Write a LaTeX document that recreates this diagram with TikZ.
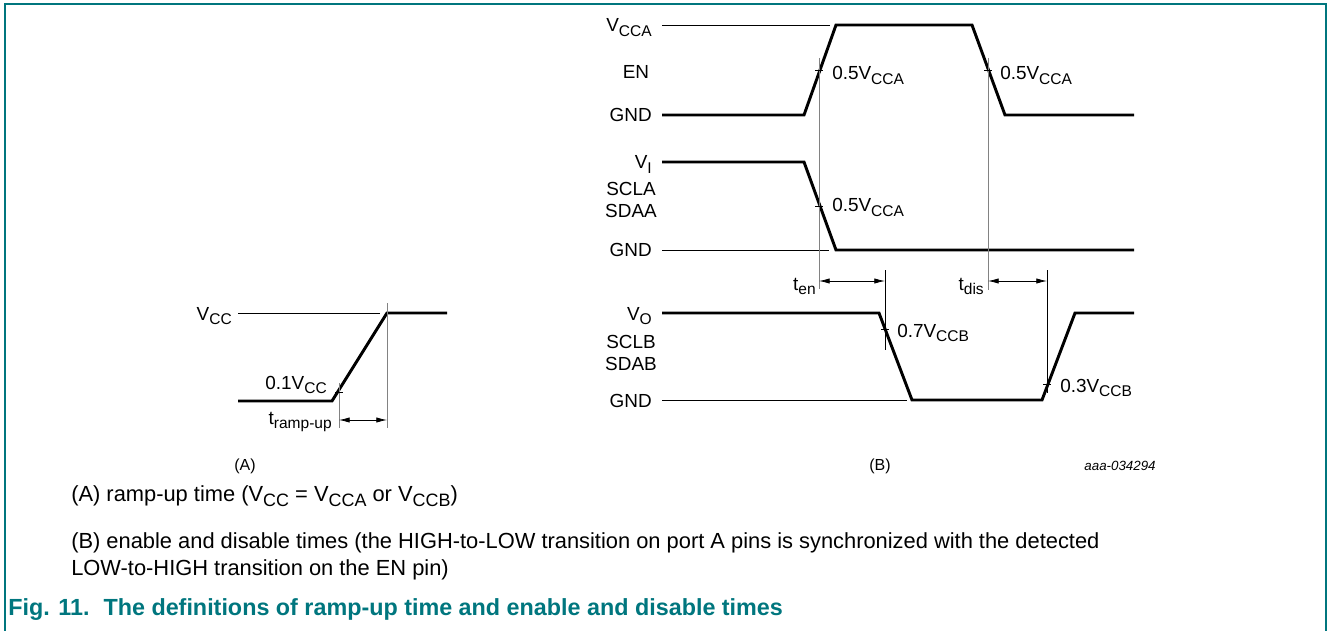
\documentclass[tikz,border=0pt]{standalone}
\usepackage{fontspec}
\usepackage{graphicx}
\setmainfont{Liberation Sans}
\usetikzlibrary{arrows.meta}
\definecolor{nxpTeal}{RGB}{0,118,126}
\definecolor{guideGray}{RGB}{130,130,130}
% voltage/time symbol with lowered subscript
\newcommand{\vsub}[2]{#1\raisebox{-0.45ex}{\scalebox{0.82}{#2}}}

\begin{document}
\begin{tikzpicture}[
        x=0.75pt, y=-0.75pt,
        wave/.style={
            line width=2.2pt,
            line join=miter
        },
        reference/.style={
            line width=0.6pt
        },
        guide/.style={
            line width=0.7pt,
            draw=guideGray
        },
        marker/.style={
            line width=0.6pt
        },
        dimension/.style={
            {Latex[length=8pt,width=4pt]}-{Latex[length=8pt,width=4pt]},
            line width=0.6pt
        },
        lbl/.style={
            inner sep=0pt,
            font=\fontsize{14.2}{16}\selectfont
        },
        panel/.style={
            inner sep=0pt,
            font=\fontsize{12}{14}\selectfont
        },
        caption/.style={
            inner sep=0pt,
            align=left,
            font=\fontsize{16.4}{20.2}\selectfont
        }
    ]

    \useasboundingbox (0,0) rectangle (1328,631);

    % frame
    \draw[nxpTeal, line width=1.2pt] (5,631) -- (5,4) -- (1326,4) -- (1326,631);

    % ---------- (A) ramp-up ----------
    \node[lbl, anchor=base east] (vcc) at (232,320) {\vsub{V}{CC}};
    \draw[reference] (238,313) -- (380,313);
    \draw[wave] (238,401) -- (332,401) -- (387,313) -- (447,313);
    \coordinate (rampLow) at (339,428);
    \coordinate (rampHigh) at (387,428);
    \draw[guide] (339,383) -- (rampLow);
    \draw[guide] (387,303) -- (rampHigh);
    \draw[marker] (335,392) -- (343,392);
    \node[lbl, anchor=base east] (tenth) at (327,389) {0.1\vsub{V}{CC}};
    \node[lbl, anchor=base east] (tramp) at (332,424) {\vsub{t}{ramp-up}};
    \coordinate (rampA) at (339,420);
    \coordinate (rampB) at (387,420);
    \draw[dimension] (rampA) -- (rampB);
    \node[panel] (labA) at (245,466) {(A)};

    % ---------- (B) enable / disable ----------
    % EN
    \node[lbl, anchor=base east] (vccaEN) at (652,32) {\vsub{V}{CCA}};
    \node[lbl, anchor=base east] (gndEN) at (652,122) {GND};
    \node[lbl] (en) at (636,72) {EN};
    \draw[reference] (662,25) -- (830,25);
    \draw[wave] (662,115) -- (804,115) -- (836,25) -- (972,25) -- (1005,115) -- (1134,115);

    % SCLA / SDAA
    \node[lbl, anchor=base east] (vi) at (652,169) {\vsub{V}{I}};
    \node[lbl, anchor=base east] (gndA) at (652,257) {GND};
    \node[lbl, align=center] (portA) at (631,200) {SCLA\\SDAA};
    \draw[reference] (662,250) -- (829,250);
    \draw[wave] (662,162) -- (804,162) -- (836,250) -- (1134,250);

    % SCLB / SDAB
    \node[lbl, anchor=base east] (vo) at (652,320) {\vsub{V}{O}};
    \node[lbl, anchor=base east] (gndB) at (652,407) {GND};
    \node[lbl, align=center] (portB) at (631,353) {SCLB\\SDAB};
    \draw[reference] (662,400) -- (907,400);
    \draw[wave] (662,313) -- (879,313) -- (912,400) -- (1042,400) -- (1075,313) -- (1134,313);

    % guides and measuring points
    \draw[guide] (819,58) -- (819,289);
    \draw[guide] (988,58) -- (988,290);
    \draw[reference] (885,270) -- (885,350);
    \draw[reference] (1047,270) -- (1047,393);
    \draw[marker] (815,70) -- (823,70);
    \draw[marker] (984,70) -- (992,70);
    \draw[marker] (815,206) -- (823,206);
    \draw[marker] (881,329) -- (889,329);
    \draw[marker] (1043,384) -- (1051,384);

    \node[lbl, anchor=base west] (halfEN1) at (832,80) {0.5\vsub{V}{CCA}};
    \node[lbl, anchor=base west] (halfEN2) at (1000,80) {0.5\vsub{V}{CCA}};
    \node[lbl, anchor=base west] (halfA) at (832,212) {0.5\vsub{V}{CCA}};
    \node[lbl, anchor=base west] (sevenB) at (897,337) {0.7\vsub{V}{CCB}};
    \node[lbl, anchor=base west] (threeB) at (1060,392) {0.3\vsub{V}{CCB}};

    % enable / disable times
    \coordinate (enA) at (819,281);
    \coordinate (enB) at (885,281);
    \coordinate (disA) at (988,281);
    \coordinate (disB) at (1047,281);
    \draw[dimension] (enA) -- (enB);
    \draw[dimension] (disA) -- (disB);
    \node[lbl, anchor=base east] (ten) at (816,290) {\vsub{t}{en}};
    \node[lbl, anchor=base east] (tdis) at (984,290) {\vsub{t}{dis}};

    \node[panel] (labB) at (880,466) {(B)};
    \node[panel, font=\fontsize{10}{12}\selectfont\itshape] (code) at (1120,466) {aaa-034294};

    % ---------- caption ----------
    \node[caption, anchor=base west] (capA) at (71,501)
        {(A) ramp-up time (\vsub{V}{CC} = \vsub{V}{CCA} or \vsub{V}{CCB})};
    \node[caption, anchor=base west] (capB1) at (71,548)
        {(B) enable and disable times (the HIGH-to-LOW transition on port A pins is synchronized with the detected};
    \node[caption, anchor=base west] (capB2) at (71,575)
        {LOW-to-HIGH transition on the EN pin)};
    \node[caption, anchor=base west, text=nxpTeal, font=\fontsize{17.5}{21}\selectfont\bfseries] (fig) at (8,615)
        {Fig. 11.\hspace{0.6em}The definitions of ramp-up time and enable and disable times};

\end{tikzpicture}
\end{document}
